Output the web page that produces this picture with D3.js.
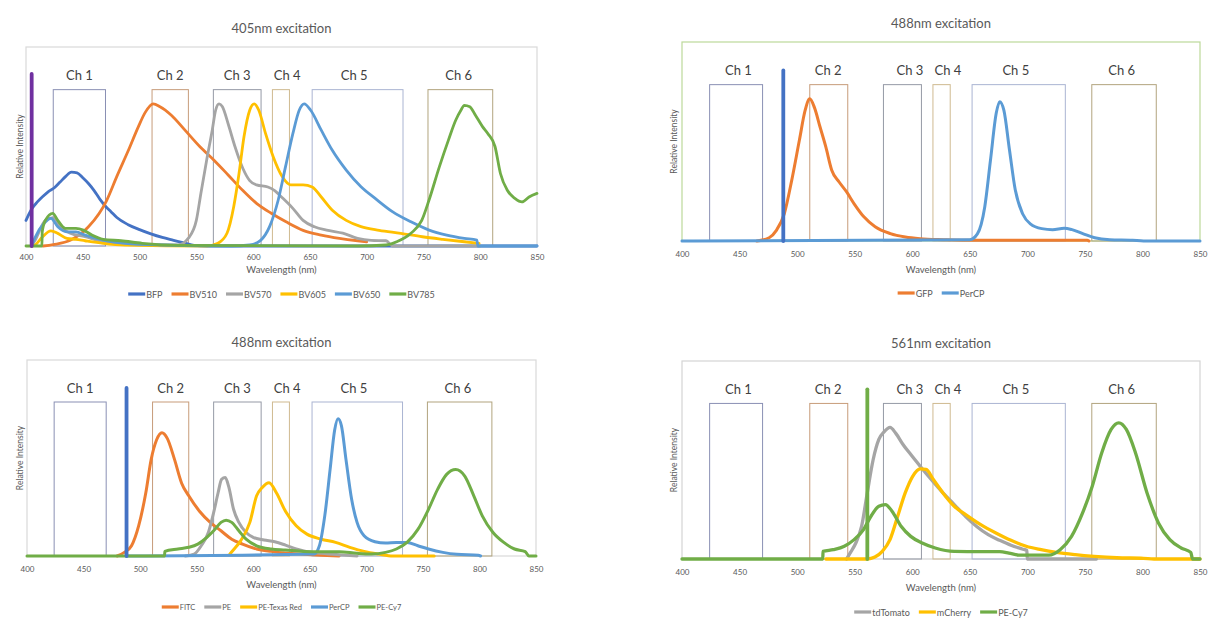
<!DOCTYPE html>
<html><head><meta charset="utf-8">
<script src="https://cdn.jsdelivr.net/npm/d3@7"></script>
<style>
html,body{margin:0;padding:0;background:#fff;}
svg{display:block;font-family:Lato,"Open Sans",sans-serif;}
</style></head>
<body>
<svg id="chart" width="1232" height="633"></svg>
<script>
// ---------------- DATA ----------------
const xTicks = [400,450,500,550,600,650,700,750,800,850];
const channelNames = ["Ch 1","Ch 2","Ch 3","Ch 4","Ch 5","Ch 6"];
const channelsLeft  = [[424,470],[511,543],[565,607],[617,632],[652,732],[754,811]];
const channelsRight = [[424,470],[511,544],[575,608],[618,633],[652,733],[756,812]];
const chLabelLeft  = [447,527,586,630,689,781];
const chLabelRight = [449,527,598,631,690,782];

// panel 1: 405nm excitation
const names405 = ["BFP","BV510","BV570","BV605","BV650","BV785"];
const bfp = [[400,0.18],[405,0.26],[410,0.31],[415,0.35],[420,0.385],[425,0.41],[430,0.45],[435,0.49],[440,0.52],[445,0.515],[450,0.48],[455,0.44],[460,0.39],[465,0.33],[470,0.28],[475,0.24],[480,0.2],[490,0.15],[500,0.115],[510,0.085],[520,0.06],[530,0.04],[540,0.02],[548,0.005],[560,0],[850,0]];
const bv510 = [[415,0],[424,0.01],[439,0.04],[455,0.135],[471,0.32],[480,0.49],[490,0.67],[499,0.84],[505,0.94],[512,1.0],[518,0.98],[528,0.92],[540,0.815],[553,0.70],[566,0.60],[578,0.50],[591,0.39],[603,0.30],[616,0.23],[629,0.17],[644,0.11],[660,0.077],[676,0.054],[692,0.037],[700,0.03]];
const bv570 = [[405,0],[408,0.04],[417,0.18],[424,0.2],[430,0.135],[439,0.09],[452,0.065],[468,0.03],[487,0.01],[534,0.007],[543,0.055],[550,0.18],[554,0.37],[559,0.6],[564,0.815],[567,0.955],[570,1.0],[573,0.98],[578,0.86],[584,0.70],[591,0.545],[597,0.46],[603,0.43],[613,0.415],[619,0.39],[625,0.345],[635,0.265],[644,0.18],[654,0.135],[666,0.11],[679,0.09],[692,0.054],[704,0.04],[717,0.037],[723,0.0],[800,0]];
const bv605 = [[405,0],[408,0.007],[414,0.06],[422,0.107],[428,0.089],[436,0.054],[444,0.047],[452,0.037],[468,0.019],[487,0.007],[559,0],[569,0.02],[577,0.09],[583,0.28],[587.6,0.51],[592,0.77],[597,0.955],[601,1.0],[605,0.955],[611,0.79],[617.6,0.63],[625.5,0.49],[633,0.43],[644,0.43],[652,0.415],[660,0.345],[670,0.25],[682,0.18],[695,0.136],[711,0.11],[730,0.089],[749,0.065],[767,0.047],[786,0.03],[799,0.019]];
const bv650 = [[405,0],[408,0.06],[416,0.16],[422,0.195],[428,0.135],[436,0.1],[444,0.1],[452,0.077],[468,0.042],[487,0.019],[518,0.007],[581,0],[597,0.007],[606.6,0.04],[614.5,0.136],[622,0.32],[628.6,0.56],[635,0.79],[640.6,0.955],[645,1.0],[650.7,0.955],[660,0.815],[669.6,0.675],[682,0.534],[695,0.417],[707.5,0.335],[723,0.24],[739,0.17],[755,0.112],[770.5,0.077],[786,0.054],[797,0.042],[798,0],[850,0]];
const bv785 = [[400,0],[414,0],[414.3,0.1],[417,0.18],[423.6,0.23],[428,0.18],[434.7,0.124],[444,0.124],[450.5,0.112],[458,0.077],[468,0.047],[483.6,0.037],[502.5,0.019],[534,0.005],[692,0],[717,0.007],[726.4,0.03],[739,0.09],[748.5,0.18],[754.8,0.32],[764,0.557],[772,0.745],[778.4,0.885],[783,0.955],[786,0.99],[790.8,0.98],[795.8,0.92],[802,0.84],[806.8,0.79],[813,0.70],[817.8,0.51],[824,0.39],[830.5,0.335],[836.8,0.31],[843,0.345],[850,0.37]];

// panel 2: 488nm excitation (GFP / PerCP)
const namesGfp = ["GFP","PerCP"];
const gfp = [[465,0],[475.7,0.023],[482,0.075],[488.8,0.19],[495.4,0.43],[502,0.71],[507,0.92],[511,1.0],[515,0.94],[520,0.80],[525,0.66],[530,0.50],[536.5,0.415],[543,0.345],[549.7,0.26],[558,0.17],[567.8,0.1],[581,0.052],[594,0.028],[607,0.016],[627,0.009],[646.7,0.005],[752,0.005],[753.6,0]];
const percpA = [[400,0],[650,0.009],[656.6,0.05],[663,0.24],[668,0.57],[673,0.9],[676,0.98],[679.6,0.92],[684.5,0.64],[689.5,0.36],[696,0.19],[702.6,0.12],[712.5,0.087],[722,0.08],[732,0.09],[738.8,0.08],[748.7,0.05],[758.5,0.023],[771.7,0.009],[791.4,0.005],[801,0],[850,0]];

// panel 3: 488nm excitation (FITC ...)
const names488 = ["FITC","PE","PE-Texas Red","PerCP","PE-Cy7"];
const fitc = [[479.7,0],[486,0.026],[492.4,0.073],[498.7,0.215],[505,0.45],[509.8,0.69],[514.6,0.83],[519.3,0.88],[524,0.84],[530.4,0.69],[536.7,0.52],[543,0.43],[552.5,0.32],[562,0.24],[571.5,0.18],[581,0.12],[590.5,0.085],[603,0.05],[615.8,0.033],[628.5,0.021],[644.3,0.012],[660,0.005],[676,0]];
const pe = [[540,0],[547.8,0.014],[554,0.073],[560.4,0.17],[565,0.31],[568.9,0.45],[572,0.547],[575.3,0.56],[578.5,0.49],[582.6,0.334],[587.3,0.24],[593.7,0.168],[600,0.133],[609.5,0.114],[619,0.102],[628.5,0.078],[638,0.05],[647.5,0.03],[660,0.019],[679,0.007],[691.8,0]];
const peTexasRed = [[579.4,0.014],[582.6,0.045],[589,0.11],[597,0.24],[603,0.43],[608,0.49],[614,0.524],[620.6,0.45],[628.5,0.32],[638,0.216],[647.5,0.156],[660,0.12],[672.8,0.097],[685.4,0.062],[698,0.033],[710.8,0.014],[723.4,0],[760,0]];
const percpB = [[488,0],[653.8,0.014],[658.5,0.073],[663.3,0.29],[668,0.62],[672,0.9],[675,0.98],[678,0.93],[682,0.69],[687,0.405],[691.8,0.24],[698,0.145],[707.6,0.102],[717,0.092],[726.6,0.097],[736,0.097],[745.6,0.073],[755,0.05],[767.7,0.026],[780,0.012],[799,0.005],[801,0]];
const peCy7A = [[400,0],[521.6,0],[521.8,0.033],[533.5,0.05],[543,0.062],[551,0.085],[559,0.133],[565,0.18],[571.5,0.24],[576,0.256],[581,0.24],[587.3,0.18],[593.7,0.12],[603,0.073],[615.8,0.05],[628.5,0.043],[644.3,0.033],[660,0.031],[676,0.031],[691.8,0.019],[704.4,0.014],[717,0.026],[726.6,0.05],[736,0.097],[745.6,0.19],[755,0.334],[763,0.476],[771,0.583],[779,0.618],[787,0.571],[795,0.43],[802.5,0.287],[812,0.168],[821.5,0.097],[831,0.05],[840.5,0.031],[843.7,0],[850,0]];

// panel 4: 561nm excitation
const names561 = ["tdTomato","mCherry","PE-Cy7"];
const tdTomato = [[543,0],[546,0.042],[551,0.113],[556,0.23],[561,0.47],[566,0.70],[571,0.845],[575.7,0.9],[580.7,0.93],[585.6,0.89],[592,0.81],[598.6,0.74],[606.9,0.656],[616.7,0.56],[626.7,0.467],[636.5,0.385],[646.4,0.30],[656,0.23],[666,0.172],[676,0.132],[685.8,0.097],[695.6,0.071],[699.6,0.061],[699.9,0],[760,0]];
const mCherry = [[525,0],[561,0],[567.6,0.014],[574,0.054],[580.7,0.137],[587.3,0.30],[593.9,0.467],[600.4,0.585],[607,0.637],[612,0.633],[618.5,0.56],[626.7,0.467],[636.5,0.373],[646.4,0.314],[659.5,0.243],[672.7,0.184],[685.8,0.132],[699,0.09],[712,0.066],[725.2,0.047],[741.6,0.031],[758,0.019],[777.8,0.009],[800.8,0.005],[810,0],[850,0]];
const peCy7B = [[400,0],[522.3,0],[522.5,0.054],[531.4,0.066],[541,0.09],[549.5,0.137],[557.7,0.208],[564,0.30],[571,0.373],[576.7,0.385],[582.3,0.34],[590.5,0.23],[598.7,0.16],[608.6,0.113],[620,0.078],[636.5,0.054],[659.5,0.052],[676,0.052],[684,0.042],[692.4,0.028],[718.7,0.028],[728.5,0.066],[738.4,0.16],[748,0.326],[756.4,0.515],[764.6,0.75],[772.8,0.916],[779.4,0.963],[786,0.916],[794,0.75],[804,0.467],[813.9,0.255],[823.8,0.137],[833.6,0.078],[842,0.047],[843.5,0],[850,0]];

// laser lines: [wavelength, height]
const laser405 = [[405,0],[405,1.21]];
const laser488a = [[488,0],[488,1.2]];
const laser488b = [[488,0],[488,1.2]];
const laser561 = [[561,0],[561,1.2]];

// ---------------- STYLE / LAYOUT ----------------
const C = {blue:"#4472C4", orange:"#ED7D31", gray:"#A5A5A5", gold:"#FFC000", lblue:"#5B9BD5", green:"#70AD47", purple:"#7030A0"};
const chColors = ["#8a90b4","#c79c7a","#959aa6","#cfba90","#aab4d2","#b2a47e"];

const panels = [
  {title:"405nm excitation", x0:26, x1:537, top:47, bottom:246, titleY:28, tickY:257, axY:269, ylabX:20, legY:294, legFont:9,
   border:"#d9d9d9", channels:channelsLeft, chLabels:chLabelLeft,
   series:[[bfp,C.blue],[bv510,C.orange],[bv570,C.gray],[bv605,C.gold],[bv650,C.lblue],[bv785,C.green]], names:names405,
   laser:[laser405,C.purple], lw:2.8},
  {title:"488nm excitation", x0:682, x1:1200, top:42, bottom:241, titleY:23, tickY:254, axY:269, ylabX:674, legY:293, legFont:9,
   border:"#bcd99a", channels:channelsRight, chLabels:chLabelRight,
   series:[[gfp,C.orange],[percpA,C.lblue]], names:namesGfp,
   laser:[laser488a,C.blue], lw:3},
  {title:"488nm excitation", x0:27, x1:536, top:360, bottom:556, titleY:342, tickY:569, axY:584, ylabX:20, legY:607, legFont:7.5,
   border:"#d9d9d9", channels:channelsLeft, chLabels:chLabelLeft,
   series:[[fitc,C.orange],[pe,C.gray],[peTexasRed,C.gold],[percpB,C.lblue],[peCy7A,C.green]], names:names488,
   laser:[laser488b,C.blue], lw:3},
  {title:"561nm excitation", x0:682, x1:1200, top:361, bottom:559, titleY:343, tickY:572, axY:587, ylabX:674, legY:612, legFont:9,
   border:"#d4d4d4", channels:channelsRight, chLabels:chLabelRight,
   series:[[tdTomato,C.gray],[mCherry,C.gold],[peCy7B,C.green]], names:names561,
   laser:[laser561,C.green], lw:3.3}
];

const svg = d3.select("#chart");

panels.forEach(p => {
  const g = svg.append("g");
  const x = d3.scaleLinear().domain([400,850]).range([p.x0,p.x1]);
  const y = d3.scaleLinear().domain([0,1.4]).range([p.bottom,p.top]);
  const cx = (p.x0+p.x1)/2;

  g.append("text").attr("x",cx).attr("y",p.titleY).attr("text-anchor","middle").attr("dominant-baseline","central")
    .attr("font-size",13).attr("fill","#595959").text(p.title);

  g.append("rect").attr("x",p.x0).attr("y",p.top).attr("width",p.x1-p.x0).attr("height",p.bottom-p.top)
    .attr("fill","none").attr("stroke",p.border).attr("stroke-width",1.2);

  const ax = g.append("g").attr("transform",`translate(0,${p.tickY})`)
    .call(d3.axisBottom(x).tickValues(xTicks).tickSize(0).tickPadding(0).tickFormat(d3.format("d")));
  ax.select(".domain").remove();
  ax.selectAll("text").attr("font-family","Lato,sans-serif").attr("font-size",8).attr("fill","#595959")
    .attr("dy","0.35em").attr("y",0);

  g.append("text").attr("x",cx).attr("y",p.axY).attr("text-anchor","middle").attr("dominant-baseline","central")
    .attr("font-size",9.5).attr("fill","#595959").text("Wavelength (nm)");
  g.append("text").attr("transform",`translate(${p.ylabX},${(p.top+p.bottom)/2}) rotate(-90)`)
    .attr("text-anchor","middle").attr("dominant-baseline","central")
    .attr("font-size",8.5).attr("fill","#595959").text("Relative Intensity");

  p.channels.forEach((c,i) => {
    g.append("rect").attr("x",x(c[0])).attr("y",y(1.1)).attr("width",x(c[1])-x(c[0])).attr("height",y(0)-y(1.1))
      .attr("fill","none").attr("stroke",chColors[i]).attr("stroke-width",1);
    g.append("text").attr("x",x(p.chLabels[i])).attr("y",y(1.2)).attr("text-anchor","middle").attr("dominant-baseline","central")
      .attr("font-size",13).attr("fill","#404040").text(channelNames[i]);
  });

  const line = d3.line().x(d=>x(d[0])).y(d=>y(d[1])).curve(d3.curveMonotoneX);
  p.series.forEach(s => {
    g.append("path").datum(s[0]).attr("d",line).attr("fill","none").attr("stroke",s[1])
      .attr("stroke-width",p.lw).attr("stroke-linejoin","round").attr("stroke-linecap","round");
  });
  const ll = d3.line().x(d=>x(d[0])).y(d=>y(d[1]));
  g.append("path").datum(p.laser[0]).attr("d",ll).attr("fill","none").attr("stroke",p.laser[1])
    .attr("stroke-width",3.8).attr("stroke-linecap","round");

  const lg = g.append("g");
  let off = 0;
  p.series.forEach((s,i) => {
    const it = lg.append("g");
    it.append("line").attr("x1",0).attr("x2",17).attr("y1",0).attr("y2",0).attr("stroke",s[1]).attr("stroke-width",3.2);
    const t = it.append("text").attr("x",18).attr("y",0).attr("dominant-baseline","central")
      .attr("font-size",p.legFont).attr("fill","#595959").text(p.names[i]);
    const w = 18 + t.node().getComputedTextLength();
    it.attr("transform",`translate(${off},0)`);
    off += w + 9;
  });
  const total = off - 9;
  lg.attr("transform",`translate(${cx-total/2},${p.legY})`);
});
</script>
</body></html>
